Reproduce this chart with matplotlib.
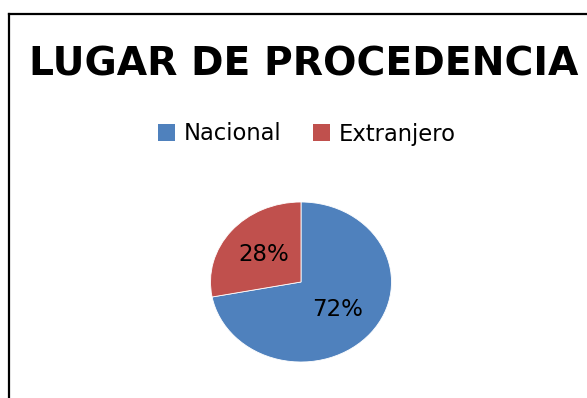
import matplotlib
matplotlib.use('Agg')
import matplotlib.pyplot as plt
from matplotlib.lines import Line2D
from matplotlib.patches import Patch

labels = ['Nacional', 'Extranjero']
shares = [72, 28]
colors = ['#4F81BD', '#C0504D']
title = 'LUGAR DE PROCEDENCIA'

W, H = 587, 398
plt.rcParams['font.family'] = ['DejaVu Sans']

fig = plt.figure(figsize=(W / 100, H / 100), dpi=100)

# chart frame: only the left and top edges fall inside the image
fig.add_artist(Line2D([9 / W, 9 / W], [0, 1 - 14 / H], color='black', lw=1.6))
fig.add_artist(Line2D([9 / W, 1], [1 - 14 / H, 1 - 14 / H], color='black', lw=1.6))

fig.text(304 / W, 1 - 64 / H, title, ha='center', va='center',
         fontsize=28.3, fontweight='bold', color='black')

# pie area in pixels: center (301, 282), 181 x 160
cx, cy, pw, ph = 301, 282, 181, 160
ax = fig.add_axes([(cx - pw / 2) / W, (H - cy - ph / 2) / H, pw / W, ph / H])
wedges, texts, autotexts = ax.pie(
    shares, colors=colors, startangle=90, counterclock=False,
    autopct='%d%%', pctdistance=0.53, radius=1,
    textprops=dict(fontsize=16.5, color='black'),
    wedgeprops=dict(linewidth=0.6, edgecolor='white'))
ax.set_xlim(-1, 1)
ax.set_ylim(-1, 1)
ax.set_aspect('auto')
ax.axis('off')

handles = [Patch(facecolor=c, edgecolor='none') for c in colors]
fig.legend(handles, labels, loc='center', bbox_to_anchor=(307 / W, 1 - 134 / H),
           ncol=2, frameon=False, fontsize=16.3, handlelength=0.75, handleheight=0.75,
           handletextpad=0.4, columnspacing=1.4)

fig.savefig('out.png', dpi=100)
